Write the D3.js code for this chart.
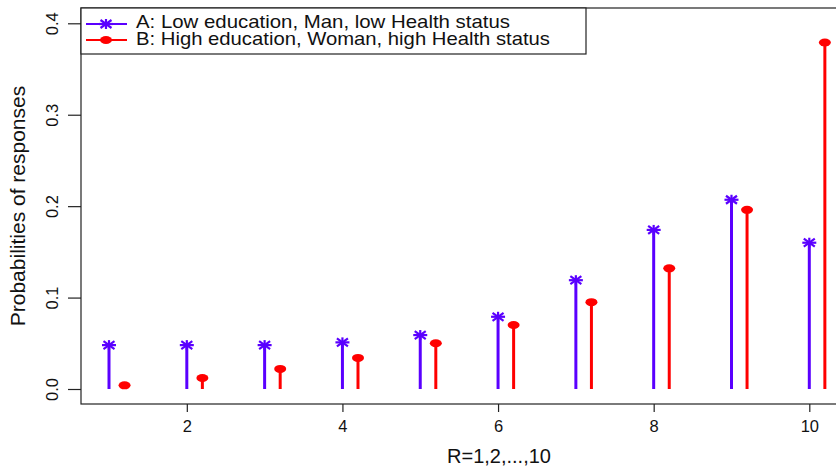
<!DOCTYPE html>
<html>
<head>
<meta charset="utf-8">
<script src="https://cdn.jsdelivr.net/npm/d3@7"></script>
<style>
  html, body { margin: 0; padding: 0; background: #fff; }
  svg { display: block; font-family: "Liberation Sans", Arial, Helvetica, sans-serif; }
</style>
</head>
<body>
<svg id="chart" width="836" height="470"></svg>
<script>
// Response categories R = 1..10
const categories = [1, 2, 3, 4, 5, 6, 7, 8, 9, 10];
// Profile A: low education, man, low health status
const seriesA = [0.048, 0.048, 0.048, 0.051, 0.059, 0.079, 0.119, 0.174, 0.207, 0.160];
// Profile B: high education, woman, high health status
const seriesB = [0.004, 0.012, 0.022, 0.034, 0.050, 0.070, 0.095, 0.132, 0.196, 0.379];
const xTicks = [2, 4, 6, 8, 10];
const yTicks = [0.0, 0.1, 0.2, 0.3, 0.4];
const legendLabels = [
  "A: Low education, Man, low Health status",
  "B: High education, Woman, high Health status"
];
const offsetB = 0.2;

const colA = "#5a00ff";
const colB = "#ff0000";

const svg = d3.select("#chart");

const plotLeft = 81, plotTop = 8, plotBottom = 404;

const x = d3.scaleLinear().domain([1, 10]).range([109, 809.3]);
const y = d3.scaleLinear().domain([0, 0.4]).range([389, 23.3]);

// Plot frame
svg.append("rect")
  .attr("x", plotLeft).attr("y", plotTop)
  .attr("width", 900).attr("height", plotBottom - plotTop)
  .attr("fill", "none").attr("stroke", "#222").attr("stroke-width", 1.2);

// Y axis
const yAxis = svg.append("g")
  .attr("transform", `translate(${plotLeft},0)`)
  .call(d3.axisLeft(y).tickValues(yTicks).tickSize(13).tickFormat(d3.format(".1f")));
yAxis.select(".domain").remove();
yAxis.selectAll(".tick line").attr("stroke", "#222").attr("stroke-width", 1.2);
yAxis.selectAll(".tick text")
  .attr("x", null).attr("dy", null)
  .attr("text-anchor", "middle")
  .attr("transform", "translate(-23,0) rotate(-90)")
  .attr("fill", "#111")
  .style("font-size", "16.5px");

// X axis
const xAxis = svg.append("g")
  .attr("transform", `translate(0,${plotBottom})`)
  .call(d3.axisBottom(x).tickValues(xTicks).tickSize(8).tickFormat(d3.format("d")));
xAxis.select(".domain").remove();
xAxis.selectAll(".tick line").attr("stroke", "#222").attr("stroke-width", 1.2);
xAxis.selectAll(".tick text")
  .attr("y", 28).attr("dy", null)
  .attr("fill", "#111")
  .style("font-size", "16.5px");

// Axis titles
svg.append("text")
  .attr("x", 499).attr("y", 463)
  .attr("text-anchor", "middle")
  .style("font-size", "20px").attr("fill", "#111")
  .text("R=1,2,...,10");

svg.append("text")
  .attr("transform", `translate(25,${(plotTop + plotBottom) / 2}) rotate(-90)`)
  .attr("text-anchor", "middle")
  .style("font-size", "21px").attr("fill", "#111")
  .text("Probabilities of responses");

// Star marker (plus overlaid with a cross)
function star(g, cx, cy, color) {
  const s = g.append("g").attr("transform", `translate(${cx},${cy})`)
    .attr("stroke", color).attr("stroke-width", 2.2).attr("fill", "none");
  s.append("line").attr("x1", -7).attr("x2", 7).attr("y1", 0).attr("y2", 0);
  s.append("line").attr("x1", 0).attr("x2", 0).attr("y1", -5).attr("y2", 5);
  s.append("line").attr("x1", -5.5).attr("x2", 5.5).attr("y1", -4).attr("y2", 4);
  s.append("line").attr("x1", -5.5).attr("x2", 5.5).attr("y1", 4).attr("y2", -4);
}

const marks = svg.append("g");

// Series A stems and stars
const dataA = categories.map((c, i) => ({ r: c, v: seriesA[i] }));
marks.selectAll("line.stemA").data(dataA).join("line")
  .attr("class", "stemA")
  .attr("x1", d => x(d.r)).attr("x2", d => x(d.r))
  .attr("y1", y(0)).attr("y2", d => y(d.v))
  .attr("stroke", colA).attr("stroke-width", 3);
dataA.forEach(d => star(marks, x(d.r), y(d.v), colA));

// Series B stems and dots
const dataB = categories.map((c, i) => ({ r: c + offsetB, v: seriesB[i] }));
marks.selectAll("line.stemB").data(dataB).join("line")
  .attr("class", "stemB")
  .attr("x1", d => x(d.r)).attr("x2", d => x(d.r))
  .attr("y1", y(0)).attr("y2", d => y(d.v))
  .attr("stroke", colB).attr("stroke-width", 3);
marks.selectAll("ellipse.dotB").data(dataB).join("ellipse")
  .attr("class", "dotB")
  .attr("cx", d => x(d.r)).attr("cy", d => y(d.v))
  .attr("rx", 6).attr("ry", 4)
  .attr("fill", colB);

// Legend
const legend = svg.append("g");
legend.append("rect")
  .attr("x", plotLeft).attr("y", plotTop)
  .attr("width", 505).attr("height", 46)
  .attr("fill", "#fff").attr("stroke", "#222").attr("stroke-width", 1.2);

const rows = [24, 40];
const textWidths = [374, 414];
[colA, colB].forEach((col, i) => {
  legend.append("line")
    .attr("x1", 86).attr("x2", 127)
    .attr("y1", rows[i]).attr("y2", rows[i])
    .attr("stroke", col).attr("stroke-width", 2);
  if (i === 0) star(legend, 106, rows[i], col);
  else legend.append("ellipse").attr("cx", 106).attr("cy", rows[i]).attr("rx", 6).attr("ry", 4).attr("fill", col);
  legend.append("text")
    .attr("x", 136).attr("y", rows[i] + 4 + (i === 0 ? -0.5 : 1))
    .attr("fill", "#111")
    .attr("textLength", textWidths[i])
    .attr("lengthAdjust", "spacingAndGlyphs")
    .style("font-size", "18.5px")
    .text(legendLabels[i]);
});
</script>
</body>
</html>
